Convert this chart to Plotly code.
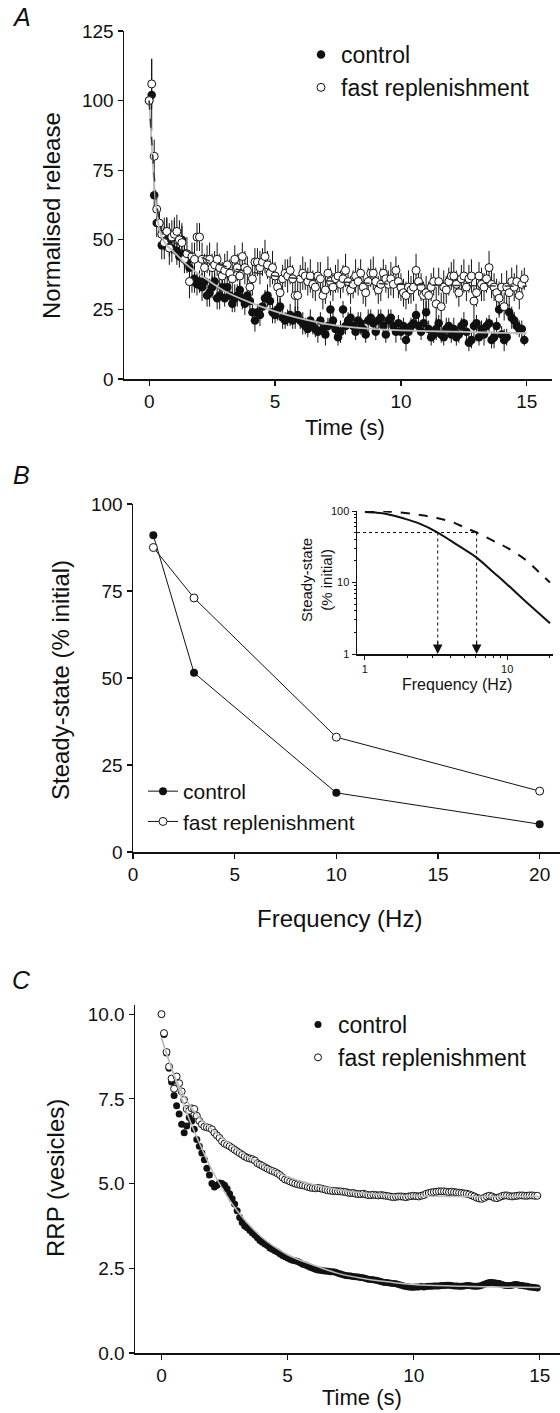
import numpy as np
import plotly.graph_objects as go

W, H = 560, 1413
FONT = "Liberation Sans, Arial, Helvetica, sans-serif"

# ---------------- Panel A data ----------------
a_time = [round(0.1 * i, 1) for i in range(150)]
a_control = [100, 102, 66, 56, 56, 48, 52, 53, 50, 47,
             52, 46, 44, 50, 45, 42, 40, 35, 36, 34,
             35, 33, 35, 30, 31, 33, 35, 29, 30, 33,
             29, 33, 30, 27, 29, 30, 32, 29, 27, 30,
             28, 24, 21, 24, 23, 26, 29, 30, 28, 24,
             23, 25, 26, 22, 21, 22, 23, 21, 22, 23,
             21, 20, 19, 18, 21, 19, 18, 17, 21, 18,
             16, 19, 25, 21, 18, 15, 17, 25, 19, 21,
             22, 19, 17, 21, 20, 18, 16, 21, 22, 20,
             17, 21, 22, 19, 16, 21, 22, 19, 17, 20,
             17, 19, 14, 17, 19, 20, 23, 19, 17, 20,
             24, 18, 15, 16, 18, 20, 16, 15, 18, 19,
             16, 18, 15, 16, 19, 20, 17, 13, 14, 19,
             20, 15, 18, 16, 19, 20, 14, 15, 19, 25,
             16, 14, 15, 24, 22, 21, 19, 18, 18, 14]
a_control_err = [2, 13, 6, 5, 4, 5, 6, 5, 6, 5,
                 6, 5, 4, 6, 5, 4, 5, 4, 5, 4,
                 4, 5, 3, 4, 5, 4, 3, 4, 5, 4,
                 3, 4, 4, 3, 5, 4, 3, 4, 4, 3,
                 4, 3, 4, 3, 4, 4, 3, 4, 3, 4,
                 3, 4, 3, 4, 3, 3, 4, 3, 4, 3,
                 3, 4, 3, 3, 4, 3, 3, 4, 3, 3,
                 4, 3, 3, 4, 3, 3, 4, 3, 3, 3,
                 4, 3, 3, 3, 4, 3, 3, 4, 3, 3,
                 3, 4, 3, 3, 3, 4, 3, 3, 4, 3,
                 3, 3, 4, 3, 3, 3, 4, 3, 3, 3,
                 4, 3, 3, 3, 4, 3, 3, 3, 4, 3,
                 3, 4, 3, 3, 3, 4, 3, 3, 3, 4,
                 3, 3, 3, 4, 3, 3, 3, 4, 3, 3,
                 3, 4, 3, 3, 4, 3, 3, 3, 3, 2]
a_fast = [100, 106, 80, 61, 56, 52, 49, 53, 47, 51,
          52, 53, 50, 49, 43, 45, 35, 44, 43, 51,
          51, 43, 40, 43, 43, 40, 41, 43, 40, 37,
          39, 41, 38, 36, 43, 40, 37, 44, 40, 39,
          33, 36, 42, 42, 40, 42, 44, 41, 38, 40,
          37, 33, 31, 36, 38, 37, 39, 36, 30, 30,
          36, 38, 37, 35, 37, 34, 33, 37, 36, 30,
          32, 38, 35, 33, 36, 37, 34, 36, 39, 35,
          32, 34, 37, 35, 38, 33, 31, 35, 38, 38,
          35, 32, 34, 38, 36, 34, 36, 34, 39, 35,
          33, 31, 30, 33, 32, 33, 39, 35, 33, 30,
          31, 30, 33, 35, 27, 35, 26, 33, 32, 35,
          37, 37, 34, 31, 36, 37, 33, 36, 37, 28,
          31, 37, 34, 33, 36, 40, 34, 33, 31, 29,
          33, 26, 33, 31, 35, 33, 35, 30, 34, 36]
a_fast_err = [2, 9, 6, 5, 5, 5, 6, 5, 6, 6,
              5, 6, 7, 6, 5, 6, 6, 5, 6, 5,
              5, 6, 5, 5, 6, 5, 5, 6, 5, 5,
              6, 5, 5, 6, 5, 5, 6, 5, 6, 5,
              5, 6, 5, 5, 6, 5, 6, 5, 5, 6,
              5, 5, 6, 5, 5, 6, 5, 5, 6, 5,
              5, 6, 5, 5, 6, 5, 5, 5, 6, 5,
              5, 6, 5, 5, 5, 6, 5, 5, 6, 5,
              5, 5, 6, 5, 5, 6, 5, 5, 5, 6,
              5, 5, 6, 5, 5, 5, 6, 5, 5, 6,
              5, 5, 5, 6, 5, 5, 6, 5, 5, 5,
              6, 5, 5, 5, 6, 5, 5, 6, 5, 5,
              5, 6, 5, 5, 5, 6, 5, 5, 6, 5,
              5, 5, 6, 5, 5, 6, 5, 5, 5, 6,
              5, 5, 6, 5, 5, 5, 6, 5, 5, 4]
a_fit_time = [0, 0.1, 0.2, 0.3, 0.4, 0.5, 0.7, 1.0, 1.5, 2, 2.5, 3, 4, 5, 6, 7,
              8, 9, 10, 11, 12, 13, 14, 15]
a_fit_control = [100, 84, 70, 60, 54, 51, 48, 45.5, 41, 37.5, 34.5, 31.5, 27.5,
                 24.3, 21.8, 19.8, 18.6, 17.9, 17.5, 17.2, 17.0, 16.8, 16.6, 16.5]
a_fit_fast = [100, 86, 73, 63, 57, 53, 50.5, 49, 46, 44, 42, 40.5, 38.5, 37, 36,
              35.3, 34.7, 34.3, 34, 33.8, 33.6, 33.5, 33.4, 33.3]

# ---------------- Panel B data ----------------
b_freq = [1, 3, 10, 20]
b_control = [91, 51.5, 17, 8]
b_fast = [87.5, 73, 33, 17.5]

inset_freq_solid = [1, 1.2, 1.42, 1.86, 2.4, 3.25, 4.0, 5.0, 6.1, 8.0, 10, 13.8, 20]
inset_solid = [97, 95, 91, 79, 67, 50, 38.5, 29, 22.3, 13.9, 9.4, 5.2, 2.7]
inset_freq_dashed = [1, 1.5, 2.44, 3.2, 4.19, 5.0, 6.1, 8.0, 9.95, 13.8, 17, 20]
inset_dashed = [100, 98, 88, 80, 69, 59, 50, 38.2, 30.8, 20, 13.5, 10]
inset_half_level = 50
inset_half_freqs = [3.25, 6.1]
inset_xmin, inset_xmax = 0.88, 21

# ---------------- Panel C data ----------------
c_time = [round(0.1 * i, 1) for i in range(150)]
c_control = [10.0, 9.4, 8.85, 8.4, 8.0, 7.6, 7.3, 7.05, 6.75, 6.5,
             6.7, 6.95, 6.85, 6.6, 6.3, 6.1, 5.9, 5.7, 5.45, 5.25,
             5.0, 4.9, 4.95, 5.02, 5.0, 4.95, 4.85, 4.7, 4.55, 4.4,
             4.2, 4.0, 3.85, 3.75, 3.7, 3.62, 3.55, 3.48, 3.4, 3.32,
             3.27, 3.22, 3.17, 3.1, 3.06, 3.02, 2.98, 2.93, 2.88, 2.84,
             2.8, 2.77, 2.74, 2.72, 2.7, 2.66, 2.62, 2.6, 2.57, 2.53,
             2.5, 2.47, 2.45, 2.44, 2.43, 2.42, 2.41, 2.4, 2.4, 2.38,
             2.35, 2.33, 2.31, 2.29, 2.28, 2.27, 2.26, 2.25, 2.24, 2.23,
             2.22, 2.2, 2.18, 2.17, 2.16, 2.15, 2.13, 2.11, 2.09, 2.08,
             2.07, 2.06, 2.05, 2.04, 2.02, 2.0, 1.98, 1.96, 1.95, 1.94,
             1.94, 1.95, 1.95, 1.96, 1.95, 1.96, 1.97, 1.97, 1.98, 1.98,
             1.98, 1.99, 1.99, 2.0, 2.0, 1.99, 1.98, 1.98, 1.97, 1.97,
             1.98, 1.99, 1.99, 1.98, 1.97, 1.97, 1.98, 2.0, 2.03, 2.06,
             2.08, 2.08, 2.07, 2.06, 2.05, 2.02, 2.0, 1.99, 1.99, 2.0,
             2.02, 2.02, 2.0, 1.99, 1.98, 1.97, 1.95, 1.94, 1.93, 1.92]
c_fast = [10.0, 9.44, 8.88, 8.45, 8.1, 7.8, 8.16, 7.96, 7.72, 7.47,
          7.2, 7.15, 7.22, 7.2, 7.0, 6.85, 6.75, 6.68, 6.66, 6.64,
          6.6, 6.5, 6.42, 6.35, 6.25, 6.18, 6.14, 6.1, 6.05, 6.0,
          5.95, 5.9, 5.85, 5.8, 5.76, 5.74, 5.72, 5.68, 5.6, 5.56,
          5.52, 5.48, 5.44, 5.4, 5.37, 5.34, 5.3, 5.25, 5.18, 5.12,
          5.1, 5.06, 5.03, 5.0, 4.98, 4.96, 4.95, 4.93, 4.9, 4.88,
          4.87, 4.86, 4.87, 4.86, 4.84, 4.82, 4.8, 4.79, 4.78, 4.78,
          4.77, 4.77, 4.76, 4.75, 4.73, 4.72, 4.72, 4.7, 4.69, 4.69,
          4.7, 4.68, 4.66, 4.66, 4.67, 4.66, 4.65, 4.66, 4.65, 4.64,
          4.63, 4.61, 4.6, 4.61, 4.62, 4.62, 4.61, 4.6, 4.62, 4.63,
          4.64, 4.63, 4.62, 4.64, 4.66, 4.7, 4.72, 4.74, 4.75, 4.76,
          4.77, 4.77, 4.77, 4.76, 4.75, 4.76, 4.75, 4.74, 4.73, 4.72,
          4.71, 4.7, 4.68, 4.65, 4.62, 4.58, 4.56, 4.55, 4.58, 4.62,
          4.64, 4.62, 4.58, 4.57, 4.6, 4.63, 4.65, 4.65, 4.63, 4.62,
          4.63, 4.64, 4.65, 4.65, 4.64, 4.64, 4.65, 4.65, 4.64, 4.64]
c_fit_time = [0, 0.5, 1, 1.5, 2, 2.5, 3, 4, 5, 6, 7, 8, 9, 10, 12, 15]
c_fit_control = [9.3, 8.2, 7.1, 6.2, 5.4, 4.75, 4.2, 3.4, 2.9, 2.6, 2.35, 2.2,
                 2.1, 2.02, 1.97, 1.93]
c_fit_fast = [9.3, 8.2, 7.45, 6.95, 6.6, 6.3, 6.0, 5.55, 5.2, 4.97, 4.82, 4.72,
              4.66, 4.63, 4.62, 4.62]

labels = ["control", "fast replenishment"]

# ---------------- helpers ----------------
def px_x(p):
    return p / W

def px_y(p):
    return 1 - p / H

BLACK = "#111111"
GRAY = "#bdbdbd"

fig = go.Figure()

# Panel A
fig.add_trace(go.Scatter(x=a_time, y=a_control, mode="markers", name=labels[0],
                         marker=dict(symbol="circle", size=8.5, color=BLACK),
                         error_y=dict(type="data", array=a_control_err, color=BLACK,
                                      thickness=1, width=0),
                         xaxis="x", yaxis="y", legend="legend"))
fig.add_trace(go.Scatter(x=a_time, y=a_fast, mode="markers", name=labels[1],
                         marker=dict(symbol="circle", size=8, color="white",
                                     line=dict(color=BLACK, width=1)),
                         error_y=dict(type="data", array=a_fast_err, color=BLACK,
                                      thickness=1, width=0),
                         xaxis="x", yaxis="y", legend="legend"))
fig.add_trace(go.Scatter(x=a_fit_time, y=a_fit_control, mode="lines", showlegend=False,
                         line=dict(color=GRAY, width=1.8, shape="spline"),
                         xaxis="x", yaxis="y"))
fig.add_trace(go.Scatter(x=a_fit_time, y=a_fit_fast, mode="lines", showlegend=False,
                         line=dict(color="#333333", width=1.5, dash="dash", shape="spline"),
                         xaxis="x", yaxis="y"))

# Panel B
fig.add_trace(go.Scatter(x=b_freq, y=b_control, mode="lines+markers", name=labels[0],
                         line=dict(color=BLACK, width=1),
                         marker=dict(symbol="circle", size=8, color=BLACK),
                         xaxis="x2", yaxis="y2", legend="legend2"))
fig.add_trace(go.Scatter(x=b_freq, y=b_fast, mode="lines+markers", name=labels[1],
                         line=dict(color=BLACK, width=1),
                         marker=dict(symbol="circle", size=8, color="white",
                                     line=dict(color=BLACK, width=1)),
                         xaxis="x2", yaxis="y2", legend="legend2"))

# Inset
fig.add_trace(go.Scatter(x=[inset_xmin, inset_half_freqs[1]],
                         y=[inset_half_level, inset_half_level], mode="lines",
                         showlegend=False, line=dict(color=BLACK, width=1, dash="dot"),
                         xaxis="x3", yaxis="y3"))
for f in inset_half_freqs:
    fig.add_trace(go.Scatter(x=[f, f], y=[inset_half_level, 1.05], mode="lines",
                             showlegend=False, line=dict(color=BLACK, width=1, dash="dot"),
                             xaxis="x3", yaxis="y3"))
fig.add_trace(go.Scatter(x=inset_freq_solid, y=inset_solid, mode="lines", showlegend=False,
                         line=dict(color=BLACK, width=2, shape="spline"),
                         xaxis="x3", yaxis="y3"))
fig.add_trace(go.Scatter(x=inset_freq_dashed, y=inset_dashed, mode="lines", showlegend=False,
                         line=dict(color=BLACK, width=2, dash="dash", shape="spline"),
                         xaxis="x3", yaxis="y3"))

# Panel C
fig.add_trace(go.Scatter(x=c_time, y=c_control, mode="markers", name=labels[0],
                         marker=dict(symbol="circle", size=7, color=BLACK),
                         xaxis="x4", yaxis="y4", legend="legend3"))
fig.add_trace(go.Scatter(x=c_time, y=c_fast, mode="markers", name=labels[1],
                         marker=dict(symbol="circle", size=7, color="white",
                                     line=dict(color=BLACK, width=1)),
                         xaxis="x4", yaxis="y4", legend="legend3"))
fig.add_trace(go.Scatter(x=c_fit_time, y=c_fit_control, mode="lines", showlegend=False,
                         line=dict(color=GRAY, width=1.5, shape="spline"),
                         xaxis="x4", yaxis="y4"))
fig.add_trace(go.Scatter(x=c_fit_time, y=c_fit_fast, mode="lines", showlegend=False,
                         line=dict(color=GRAY, width=1.5, shape="spline"),
                         xaxis="x4", yaxis="y4"))

tickfont = dict(family=FONT, size=19, color=BLACK)
common = dict(showline=True, linecolor=BLACK, linewidth=1.5, ticks="outside",
              ticklen=5, tickwidth=1.2, tickcolor=BLACK, showgrid=False,
              zeroline=False, tickfont=tickfont, fixedrange=True, automargin=False)
inset_common = dict(type="log", showline=True, linecolor=BLACK, linewidth=1.5,
                    ticks="outside", ticklen=4, tickcolor=BLACK, showgrid=False,
                    zeroline=False, automargin=False, fixedrange=True,
                    tickfont=dict(family=FONT, size=11, color=BLACK))

layout = dict(
    template="none",
    width=W, height=H, autosize=False,
    margin=dict(l=0, r=0, t=0, b=0, pad=0, autoexpand=False),
    paper_bgcolor="white", plot_bgcolor="white",
    font=dict(family=FONT, color=BLACK),
    # A
    xaxis=dict(domain=[px_x(124), px_x(552)], range=[-1, 16], tickvals=[0, 5, 10, 15],
               anchor="y", **common),
    yaxis=dict(domain=[px_y(379), px_y(31)], range=[0, 125],
               tickvals=[0, 25, 50, 75, 100, 125], anchor="x", **common),
    # B
    xaxis2=dict(domain=[px_x(133), 1.0], range=[0, 21], tickvals=[0, 5, 10, 15, 20],
                anchor="y2", **common),
    yaxis2=dict(domain=[px_y(852), px_y(504)], range=[0, 100],
                tickvals=[0, 25, 50, 75, 100], anchor="x2", **common),
    # Inset
    xaxis3=dict(domain=[px_x(357), px_x(553)],
                range=[np.log10(inset_xmin), np.log10(inset_xmax)],
                tickvals=[1, 10], ticktext=["1", "10"], anchor="y3",
                minor=dict(tickvals=[2, 3, 4, 5, 6, 7, 8, 9, 20], ticks="outside",
                           ticklen=2, tickcolor=BLACK, showgrid=False),
                **inset_common),
    yaxis3=dict(domain=[px_y(654), px_y(511)], range=[0, 2],
                tickvals=[1, 10, 100], ticktext=["1", "10", "100"], anchor="x3",
                minor=dict(tickvals=[2, 3, 4, 5, 6, 7, 8, 9, 20, 30, 40, 50, 60, 70, 80, 90],
                           ticks="outside", ticklen=2, tickcolor=BLACK, showgrid=False),
                **inset_common),
    # C
    xaxis4=dict(domain=[px_x(135), 1.0], range=[-1.05, 15.8], tickvals=[0, 5, 10, 15],
                anchor="y4", **common),
    yaxis4=dict(domain=[px_y(1353), px_y(1005)], range=[0, 10.27],
                tickvals=[0, 2.5, 5, 7.5, 10], ticktext=["0.0", "2.5", "5.0", "7.5", "10.0"],
                anchor="x4", **common),
    legend=dict(x=px_x(301), y=px_y(33), xanchor="left", yanchor="top",
                bgcolor="rgba(0,0,0,0)", font=dict(family=FONT, size=23, color=BLACK),
                itemwidth=30, tracegroupgap=0, borderwidth=0),
    legend2=dict(x=px_x(143), y=px_y(771), xanchor="left", yanchor="top",
                 bgcolor="rgba(0,0,0,0)", font=dict(family=FONT, size=21, color=BLACK),
                 itemwidth=30, tracegroupgap=0, borderwidth=0),
    legend3=dict(x=px_x(298), y=px_y(1003), xanchor="left", yanchor="top",
                 bgcolor="rgba(0,0,0,0)", font=dict(family=FONT, size=23, color=BLACK),
                 itemwidth=30, tracegroupgap=0, borderwidth=0),
)
fig.update_layout(**layout)

def text_ann(txt, x, y, size, angle=0, italic=False):
    fig.add_annotation(text=txt, x=px_x(x), y=px_y(y), xref="paper", yref="paper",
                       showarrow=False, textangle=angle, xanchor="center", yanchor="middle",
                       font=dict(family=FONT, size=size, color=BLACK,
                                 style="italic" if italic else "normal"))

# panel letters
text_ann("A", 21, 17, 25, italic=True)
text_ann("B", 21, 475, 25, italic=True)
text_ann("C", 21, 980, 25, italic=True)
# axis titles
text_ann("Normalised release", 52, 216, 24, angle=-90)
text_ann("Time (s)", 345, 427, 22)
text_ann("Steady-state (% initial)", 60, 680, 24, angle=-90)
text_ann("Frequency (Hz)", 339, 918, 24)
text_ann("RRP (vesicles)", 55, 1178, 24, angle=-90)
text_ann("Time (s)", 362, 1397, 22)
# inset titles
text_ann("Steady-state<br>(% initial)", 316, 580, 15, angle=-90)
text_ann("Frequency (Hz)", 457, 684, 16)

# inset arrows pointing down to the frequency axis
for f in inset_half_freqs:
    fig.add_annotation(x=np.log10(f), y=0, xref="x3", yref="y3", ax=0, ay=-14,
                       showarrow=True, arrowhead=2, arrowsize=1.6, arrowwidth=1.2,
                       arrowcolor=BLACK, standoff=0, text="")

fig.write_html("out.html", config={"displayModeBar": False, "staticPlot": True},
               post_script="document.body.style.margin='0';document.body.style.overflow='hidden';")
